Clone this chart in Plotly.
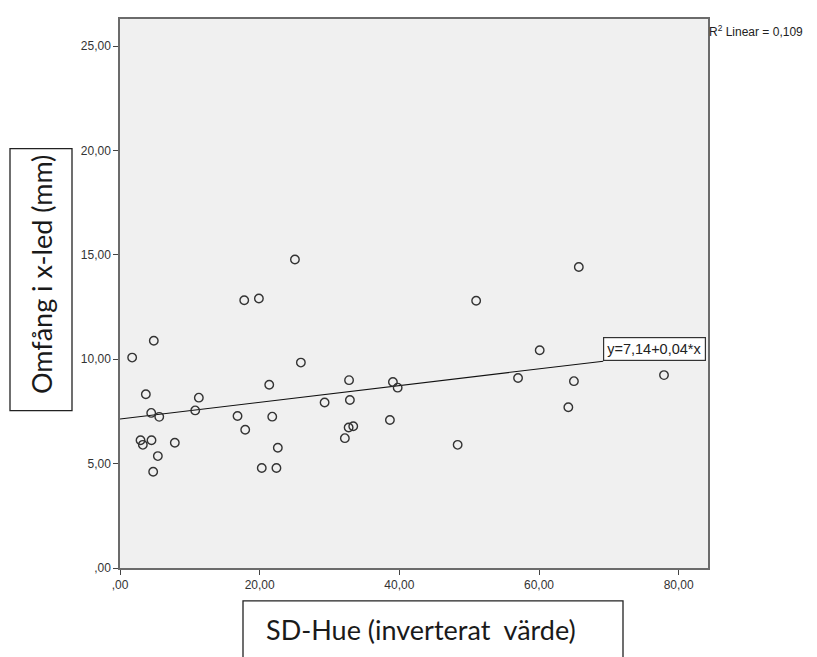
import plotly.graph_objects as go

# ---- data ----
sd_hue = [1.74, 4.84, 3.70, 4.47, 5.62, 2.94, 3.27, 4.51, 5.42, 4.75, 7.85, 10.77, 11.29,
          17.79, 19.89, 25.05, 25.90, 21.37, 16.83, 17.93, 21.80, 22.60, 20.30, 22.40, 29.30,
          51.00, 32.80, 39.08, 39.76, 32.92, 38.65, 32.74, 33.40, 32.20, 48.35,
          65.70, 60.10, 57.00, 65.00, 64.20, 77.90]
omfang = [10.08, 10.89, 8.32, 7.43, 7.24, 6.12, 5.90, 6.12, 5.36, 4.61, 6.00, 7.55, 8.16,
          12.83, 12.91, 14.78, 9.84, 8.78, 7.28, 6.62, 7.25, 5.76, 4.79, 4.79, 7.93,
          12.80, 9.00, 8.91, 8.64, 8.05, 7.09, 6.73, 6.79, 6.22, 5.90,
          14.42, 10.43, 9.10, 8.95, 7.70, 9.24]
intercept = 7.14
slope = 0.04
fit_x_end = 69.2
r2_text = "R<sup>2</sup> Linear = 0,109"
eq_text = "y=7,14+0,04*x"

x_tickvals = [0, 20, 40, 60, 80]
x_ticktext = [",00", "20,00", "40,00", "60,00", "80,00"]
y_tickvals = [0, 5, 10, 15, 20, 25]
y_ticktext = [",00", "5,00", "10,00", "15,00", "20,00", "25,00"]

x_title = "SD-Hue (inverterat\u00a0 värde)"
y_title = "Omfång i x-led (mm)"

# ---- layout geometry (screen pixels; page body adds an 8px offset) ----
OFF = 8
W, H = 817 - OFF, 657 - OFF
L, T = 120 - OFF, 17 - OFF
R = W - (708 - OFF)
B = H - (568 - OFF)
pw, ph = W - L - R, H - T - B

def px(xs):
    return (xs - OFF - L) / pw

def py(ys):
    return (H - B - (ys - OFF)) / ph

fit_x = [0, fit_x_end]
fit_y = [intercept + slope * v for v in fit_x]

fig = go.Figure()
fig.add_trace(go.Scatter(
    x=fit_x, y=fit_y, mode="lines",
    line=dict(color="#111111", width=1.1), hoverinfo="skip", showlegend=False))
fig.add_trace(go.Scatter(
    x=sd_hue, y=omfang, mode="markers",
    marker=dict(symbol="circle-open", size=8.5, color="#333333", line=dict(width=1.4, color="#333333")),
    showlegend=False))

axis_common = dict(
    showgrid=False, zeroline=False, showline=True, linecolor="#6b6b6b", linewidth=1.5,
    mirror=True, ticks="outside", ticklen=5, tickwidth=1.3, tickcolor="#444444",
    tickfont=dict(family="Liberation Sans, Arial", size=12, color="#333333"),
)

fig.update_layout(
    width=W, height=H,
    margin=dict(l=L, r=R, t=T, b=B),
    paper_bgcolor="white", plot_bgcolor="#f0f0f0",
    xaxis=dict(range=[0, 84.2], tickvals=x_tickvals, ticktext=x_ticktext, **axis_common),
    yaxis=dict(range=[0, 26.3], tickvals=y_tickvals, ticktext=y_ticktext, **axis_common),
    shapes=[
        dict(type="rect", xref="paper", yref="paper",
             x0=px(10), x1=px(72), y0=py(410), y1=py(147),
             line=dict(color="#222222", width=1.3), fillcolor="rgba(0,0,0,0)", layer="above"),
        dict(type="rect", xref="paper", yref="paper",
             x0=px(243), x1=px(623), y0=py(665), y1=py(601),
             line=dict(color="#222222", width=1.3), fillcolor="rgba(0,0,0,0)", layer="above"),
    ],
    annotations=[
        dict(text=y_title, xref="paper", yref="paper", x=px(41), y=py(274),
             textangle=-90, showarrow=False, xanchor="center", yanchor="middle",
             font=dict(family="Lato, Open Sans", size=27, color="#1a1a1a")),
        dict(text=x_title, xref="paper", yref="paper", x=px(421), y=py(630),
             showarrow=False, xanchor="center", yanchor="middle",
             font=dict(family="Lato, Open Sans", size=27, color="#1a1a1a")),
        dict(text=r2_text, xref="paper", yref="paper", x=px(707), y=py(19),
             showarrow=False, xanchor="left", yanchor="top",
             font=dict(family="Liberation Sans, Arial", size=12, color="#222222")),
        dict(text=eq_text, xref="x", yref="y", x=fit_x_end, y=fit_y[1],
             showarrow=False, xanchor="left", yanchor="bottom",
             bgcolor="white", bordercolor="#333333", borderwidth=1.2, borderpad=3,
             font=dict(family="Liberation Sans, Arial", size=14.5, color="#222222")),
    ],
)

fig.write_html("out.html")
